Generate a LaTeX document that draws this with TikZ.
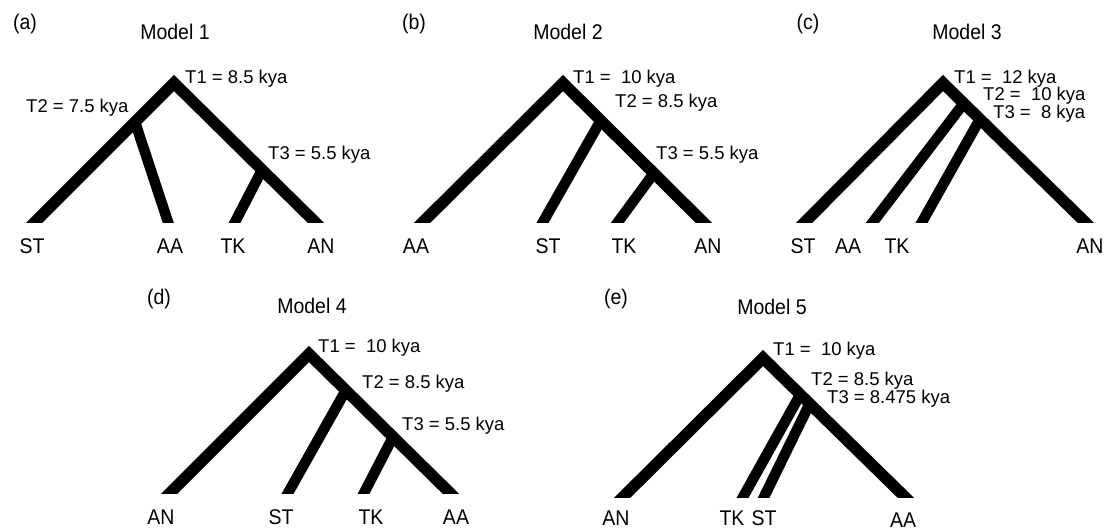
\documentclass[tikz,border=0pt]{standalone}
\usepackage{fontspec}
\setmainfont{Liberation Sans}
\newcommand{\tallx}[1]{\scalebox{1}[1.09]{#1}}
\begin{document}
\begin{tikzpicture}[x=1pt,y=-1pt,
  stem/.style={line width=11.5pt, line join=miter, line cap=butt, shorten <=-12pt, shorten >=-12pt},
  twig/.style={line width=10.5pt, line cap=butt, shorten >=-12pt},
  leaf/.style={anchor=base, inner sep=0pt, font=\fontsize{19.5}{22}\selectfont},
  title/.style={anchor=base, inner sep=0pt, font=\fontsize{19.5}{22}\selectfont},
  tag/.style={anchor=base, inner sep=0pt, font=\fontsize{19.5}{22}\selectfont},
  age/.style={anchor=base west, inner sep=0pt, font=\fontsize{18.5}{21}\selectfont}]
\useasboundingbox (0,0) rectangle (1106,531);

% ---------- (a) Model 1
\coordinate (a-root) at (174,83);
\coordinate (a-st) at (35,222);
\coordinate (a-an) at (315,222);
\coordinate (a-t2) at (135,122);
\coordinate (a-aa) at (168,222);
\coordinate (a-t3) at (262,170);
\coordinate (a-tk) at (235,222);
\begin{scope}
\clip (0,0) rectangle (368,222);
\draw[stem] (a-st) -- (a-root) -- (a-an);
\draw[twig] (a-t2) -- (a-aa);
\draw[twig] (a-t3) -- (a-tk);
\end{scope}
\node[tag] (a-tag) at (25,29) {\tallx{(a)}};
\node[title] (a-title) at (175,39) {\tallx{Model 1}};
\node[age] (a-l1) at (185,83) {T1 = 8.5 kya};
\node[age] (a-l2) at (26,112) {T2 = 7.5 kya};
\node[age] (a-l3) at (268,159) {T3 = 5.5 kya};
\node[leaf] (a-nst) at (32,253) {\tallx{ST}};
\node[leaf] (a-naa) at (170,253) {\tallx{AA}};
\node[leaf] (a-ntk) at (233,253) {\tallx{TK}};
\node[leaf] (a-nan) at (321,253) {\tallx{AN}};

% ---------- (b) Model 2
\coordinate (b-root) at (563,83);
\coordinate (b-aa) at (423,222);
\coordinate (b-an) at (703,222);
\coordinate (b-t2) at (601,120);
\coordinate (b-st) at (543,222);
\coordinate (b-t3) at (654,173);
\coordinate (b-tk) at (618,222);
\begin{scope}
\clip (368,0) rectangle (736,222);
\draw[stem] (b-aa) -- (b-root) -- (b-an);
\draw[twig] (b-t2) -- (b-st);
\draw[twig] (b-t3) -- (b-tk);
\end{scope}
\node[tag] (b-tag) at (414,29) {\tallx{(b)}};
\node[title] (b-title) at (568,39) {\tallx{Model 2}};
\node[age] (b-l1) at (573,83) {T1 = \ 10 kya};
\node[age] (b-l2) at (615,107) {T2 = 8.5 kya};
\node[age] (b-l3) at (656,159) {T3 = 5.5 kya};
\node[leaf] (b-naa) at (416,253) {\tallx{AA}};
\node[leaf] (b-nst) at (548,253) {\tallx{ST}};
\node[leaf] (b-ntk) at (624,253) {\tallx{TK}};
\node[leaf] (b-nan) at (708,253) {\tallx{AN}};

% ---------- (c) Model 3
\coordinate (c-root) at (943,83);
\coordinate (c-st) at (805,222);
\coordinate (c-an) at (1085,222);
\coordinate (c-t2) at (964,103);
\coordinate (c-aa) at (873,222);
\coordinate (c-t3) at (980,119);
\coordinate (c-tk) at (922,222);
\begin{scope}
\clip (736,0) rectangle (1106,222);
\draw[stem] (c-st) -- (c-root) -- (c-an);
\draw[twig] (c-t2) -- (c-aa);
\draw[twig] (c-t3) -- (c-tk);
\end{scope}
\node[tag] (c-tag) at (808,29) {\tallx{(c)}};
\node[title] (c-title) at (967,39) {\tallx{Model 3}};
\node[age] (c-l1) at (954,83) {T1 = \ 12 kya};
\node[age] (c-l2) at (983,100.5) {T2 = \ 10 kya};
\node[age] (c-l3) at (993,118) {T3 = \ 8 kya};
\node[leaf] (c-nst) at (803,253) {\tallx{ST}};
\node[leaf] (c-naa) at (848,253) {\tallx{AA}};
\node[leaf] (c-ntk) at (897,253) {\tallx{TK}};
\node[leaf] (c-nan) at (1090,253) {\tallx{AN}};

% ---------- (d) Model 4
\coordinate (d-root) at (309,354);
\coordinate (d-an) at (170,493);
\coordinate (d-aa) at (450,493);
\coordinate (d-t2) at (346,390);
\coordinate (d-st) at (288,493);
\coordinate (d-t3) at (393,437);
\coordinate (d-tk) at (364,493);
\begin{scope}
\clip (100,270) rectangle (560,493);
\draw[stem] (d-an) -- (d-root) -- (d-aa);
\draw[twig] (d-t2) -- (d-st);
\draw[twig] (d-t3) -- (d-tk);
\end{scope}
\node[tag] (d-tag) at (159,304) {\tallx{(d)}};
\node[title] (d-title) at (312,313) {\tallx{Model 4}};
\node[age] (d-l1) at (318,352) {T1 = \ 10 kya};
\node[age] (d-l2) at (362,388) {T2 = 8.5 kya};
\node[age] (d-l3) at (402,430) {T3 = 5.5 kya};
\node[leaf] (d-nan) at (161,524) {\tallx{AN}};
\node[leaf] (d-nst) at (281,524) {\tallx{ST}};
\node[leaf] (d-ntk) at (371,524) {\tallx{TK}};
\node[leaf] (d-naa) at (456,524) {\tallx{AA}};

% ---------- (e) Model 5
\coordinate (e-root) at (763,358);
\coordinate (e-an) at (623,497);
\coordinate (e-aa) at (905,497);
\coordinate (e-t2) at (800,395);
\coordinate (e-tk) at (743,497);
\coordinate (e-t3) at (810,403);
\coordinate (e-st) at (764,497);
\begin{scope}
\clip (560,270) rectangle (1000,497);
\draw[stem] (e-an) -- (e-root) -- (e-aa);
\draw[twig] (e-t2) -- (e-tk);
\draw[twig] (e-t3) -- (e-st);
\end{scope}
\node[tag] (e-tag) at (616,304) {\tallx{(e)}};
\node[title] (e-title) at (772,314) {\tallx{Model 5}};
\node[age] (e-l1) at (773,355) {T1 = \ 10 kya};
\node[age] (e-l2) at (811,385.5) {T2 = 8.5 kya};
\node[age] (e-l3) at (827,403) {T3 = 8.475 kya};
\node[leaf] (e-nan) at (616,525) {\tallx{AN}};
\node[leaf] (e-ntk) at (732,525) {\tallx{TK}};
\node[leaf] (e-nst) at (764,525) {\tallx{ST}};
\node[leaf] (e-naa) at (903,527) {\tallx{AA}};
\end{tikzpicture}
\end{document}
